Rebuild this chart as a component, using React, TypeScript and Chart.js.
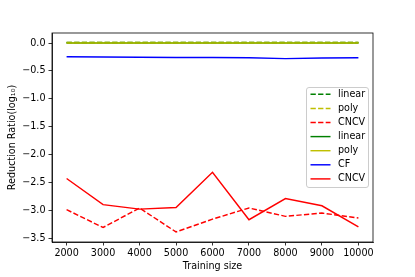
import React, { useEffect, useRef } from "react";
import { Chart, registerables } from "chart.js";

Chart.register(...registerables);

const trainingSizes = [2000, 3000, 4000, 5000, 6000, 7000, 8000, 9000, 10000];
const linearDashed = [0.01, 0.01, 0.01, 0.01, 0.01, 0.01, 0.01, 0.01, 0.01];
const polyDashed = [0.01, 0.01, 0.01, 0.01, 0.01, 0.01, 0.01, 0.01, 0.01];
const cncvDashed = [-2.99, -3.31, -2.96, -3.39, -3.16, -2.96, -3.11, -3.05, -3.14];
const linearSolid = [0.0, 0.0, 0.0, 0.0, 0.0, 0.0, 0.0, 0.0, 0.0];
const polySolid = [0.0, 0.0, 0.0, 0.0, 0.0, 0.0, 0.0, 0.0, 0.0];
const cfSolid = [-0.245, -0.25, -0.255, -0.258, -0.26, -0.265, -0.28, -0.27, -0.265];
const cncvSolid = [-2.43, -2.9, -2.98, -2.95, -2.32, -3.17, -2.79, -2.92, -3.3];

const seriesLabels = ["linear", "poly", "CNCV", "linear", "poly", "CF", "CNCV"];
const yTickValues = [0, -0.5, -1.0, -1.5, -2.0, -2.5, -3.0, -3.5];
const xTickValues = [2000, 3000, 4000, 5000, 6000, 7000, 8000, 9000, 10000];

const FONT = "'DejaVu Sans', sans-serif";
const FS = 9.6;
const DASH = [5.3, 2.3];

export default function App() {
  const ref = useRef<HTMLCanvasElement | null>(null);
  useEffect(() => {
    if (!ref.current) return;
    const mk = (vals: number[], label: string, color: string, dashed: boolean, i: number) => ({
      label,
      data: trainingSizes.map((x, k) => ({ x, y: vals[k] })),
      borderColor: color,
      backgroundColor: color,
      borderWidth: 1.45,
      borderDash: dashed ? DASH : [],
      pointRadius: 0,
      fill: false,
      tension: 0,
      order: 10 - i,
    });
    const datasets = [
      mk(linearDashed, seriesLabels[0], "#008000", true, 0),
      mk(polyDashed, seriesLabels[1], "#bfbf00", true, 1),
      mk(cncvDashed, seriesLabels[2], "#ff0000", true, 2),
      mk(linearSolid, seriesLabels[3], "#008000", false, 3),
      mk(polySolid, seriesLabels[4], "#bfbf00", false, 4),
      mk(cfSolid, seriesLabels[5], "#0000ff", false, 5),
      mk(cncvSolid, seriesLabels[6], "#ff0000", false, 6),
    ];

    const framePlugin = {
      id: "frame",
      afterDatasetsDraw(chart: any) {
        const { ctx, chartArea: a } = chart;
        ctx.save();
        ctx.strokeStyle = "#000";
        ctx.lineWidth = 0.8;
        ctx.strokeRect(a.left, a.top, a.right - a.left, a.bottom - a.top);
        ctx.restore();
      },
    };

    const legendPlugin = {
      id: "mplLegend",
      afterDraw(chart: any) {
        const { ctx } = chart;
        const x0 = 306.5, y0 = 87.5, w = 62, h = 100;
        ctx.save();
        ctx.fillStyle = "rgba(255,255,255,0.8)";
        ctx.strokeStyle = "#cccccc";
        ctx.lineWidth = 1;
        ctx.beginPath();
        const r = 2.5;
        ctx.moveTo(x0 + r, y0);
        ctx.lineTo(x0 + w - r, y0);
        ctx.quadraticCurveTo(x0 + w, y0, x0 + w, y0 + r);
        ctx.lineTo(x0 + w, y0 + h - r);
        ctx.quadraticCurveTo(x0 + w, y0 + h, x0 + w - r, y0 + h);
        ctx.lineTo(x0 + r, y0 + h);
        ctx.quadraticCurveTo(x0, y0 + h, x0, y0 + h - r);
        ctx.lineTo(x0, y0 + r);
        ctx.quadraticCurveTo(x0, y0, x0 + r, y0);
        ctx.closePath();
        ctx.fill();
        ctx.stroke();
        chart.data.datasets.forEach((ds: any, i: number) => {
          const cy = 94.3 + i * 14.1;
          ctx.strokeStyle = ds.borderColor;
          ctx.lineWidth = ds.borderWidth;
          ctx.setLineDash(ds.borderDash || []);
          ctx.beginPath();
          ctx.moveTo(310.5, cy);
          ctx.lineTo(330.5, cy);
          ctx.stroke();
          ctx.setLineDash([]);
          ctx.fillStyle = "#000";
          ctx.font = `${FS}px ${FONT}`;
          ctx.textBaseline = "middle";
          ctx.textAlign = "left";
          ctx.fillText(ds.label, 338, cy);
        });
        ctx.restore();
      },
    };

    const chart = new Chart(ref.current, {
      type: "line",
      data: { datasets },
      options: {
        animation: false,
        responsive: false,
        maintainAspectRatio: false,
        layout: { padding: { top: 33, right: 42, left: 7, bottom: 5 } },
        plugins: { legend: { display: false }, tooltip: { enabled: false } },
        scales: {
          x: {
            type: "linear",
            min: 1600,
            max: 10400,
            afterBuildTicks: (axis: any) => {
              axis.ticks = xTickValues.map((v) => ({ value: v }));
            },
            afterFit: (axis: any) => {
              axis.height = 30;
            },
            ticks: {
              callback: (v: any) => String(v),
              color: "#000",
              font: { family: FONT, size: FS },
              padding: 2,
              maxRotation: 0,
              autoSkip: false,
            },
            grid: {
              drawOnChartArea: false,
              drawTicks: true,
              tickLength: 3.5,
              tickColor: "#000",
              lineWidth: 0.8,
            },
            border: { display: true, color: "#000", width: 0.8 },
            title: {
              display: true,
              text: "Training size",
              color: "#000",
              font: { family: FONT, size: FS },
              padding: { top: 1, bottom: 0 },
            },
          },
          y: {
            type: "linear",
            min: -3.57,
            max: 0.18,
            afterBuildTicks: (axis: any) => {
              axis.ticks = yTickValues.map((v) => ({ value: v }));
            },
            afterFit: (axis: any) => {
              axis.width = 45;
            },
            ticks: {
              callback: (v: any) => (v < 0 ? "\u2212" + Math.abs(v).toFixed(1) : Math.abs(v).toFixed(1)),
              color: "#000",
              font: { family: FONT, size: FS },
              padding: 3,
              autoSkip: false,
            },
            grid: {
              drawOnChartArea: false,
              drawTicks: true,
              tickLength: 3.5,
              tickColor: "#000",
              lineWidth: 0.8,
            },
            border: { display: true, color: "#000", width: 0.8 },
            title: {
              display: true,
              text: "Reduction Ratio(log\u2081\u2080)",
              color: "#000",
              font: { family: FONT, size: FS },
              padding: { top: 0, bottom: 0 },
            },
          },
        },
      },
      plugins: [framePlugin, legendPlugin],
    } as any);
    return () => chart.destroy();
  }, []);

  return (
    <div style={{ position: "absolute", left: 0, top: 0, width: 415, height: 277, background: "#fff" }}>
      <canvas ref={ref} width={415} height={277} style={{ width: 415, height: 277, display: "block" }} />
    </div>
  );
}
